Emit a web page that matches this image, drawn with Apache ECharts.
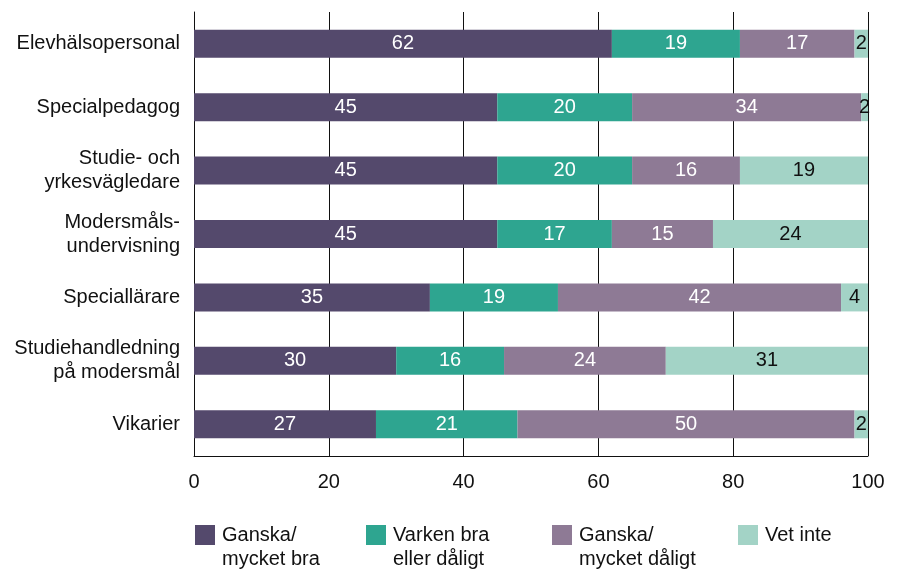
<!DOCTYPE html>
<html>
<head>
<meta charset="utf-8">
<script src="https://cdn.jsdelivr.net/npm/echarts@6/dist/echarts.min.js"></script>
<style>
  html, body { margin: 0; padding: 0; background: #fff; }
  #chart { width: 897px; height: 571px; }
</style>
</head>
<body>
<div id="chart"></div>
<script>
// kategorier (uppifrån och ner)
const categories = [
  'Elevhälsopersonal',
  'Specialpedagog',
  'Studie- och\nyrkesvägledare',
  'Modersmåls-\nundervisning',
  'Speciallärare',
  'Studiehandledning\npå modersmål',
  'Vikarier'
];
const seriesNames = ['Ganska/\nmycket bra', 'Varken bra\neller dåligt', 'Ganska/\nmycket dåligt', 'Vet inte'];
const bra = [62, 45, 45, 45, 35, 30, 27];
const varken = [19, 20, 20, 17, 19, 16, 21];
const daligt = [17, 34, 16, 15, 42, 24, 50];
const vetInte = [2, 2, 19, 24, 4, 31, 2];
const xTicks = [0, 20, 40, 60, 80, 100];

const colors = ['#54496c', '#2ea590', '#8e7a95', '#a3d3c6'];
const labelColors = ['#fff', '#fff', '#fff', '#111'];
const font = "'Liberation Sans', Arial, sans-serif";

const chart = echarts.init(document.getElementById('chart'));

const values = [bra, varken, daligt, vetInte];
const series = values.map((data, i) => ({
  name: seriesNames[i],
  type: 'bar',
  stack: 'total',
  data: data,
  barWidth: 28,
  itemStyle: { color: colors[i] },
  label: {
    show: true,
    position: 'inside',
    color: labelColors[i],
    fontSize: 20,
    fontFamily: font
  }
}));

// en legend per post så att de kan placeras exakt
const legendLeft = [195, 366, 552, 738];
const legends = seriesNames.map((name, i) => {
  const twoLines = name.indexOf('\n') >= 0;
  return {
    data: [name],
    left: legendLeft[i],
    top: twoLines ? 499 : 523,
    padding: 0,
    itemWidth: 20,
    itemHeight: 20,
    icon: 'rect',
    selectedMode: false,
    // tom första rad så att ikonen hamnar i höjd med första textraden
    formatter: n => (n.indexOf('\n') >= 0 ? ' \n' + n : n),
    textStyle: {
      fontSize: 20,
      fontFamily: font,
      color: '#111',
      lineHeight: 24,
      padding: [0, 0, 0, 2]
    }
  };
});

chart.setOption({
  animation: false,
  color: colors,
  grid: { left: 194, right: 29, top: 12, bottom: 115, containLabel: false },
  legend: legends,
  xAxis: {
    type: 'value',
    min: xTicks[0],
    max: xTicks[xTicks.length - 1],
    interval: 20,
    axisLine: { show: true, lineStyle: { color: '#111', width: 1 } },
    axisTick: { show: false },
    axisLabel: { fontSize: 20, fontFamily: font, color: '#111', margin: 16 },
    splitLine: { show: true, lineStyle: { color: '#111', width: 1 } }
  },
  yAxis: {
    type: 'category',
    data: categories,
    inverse: true,
    axisLine: { show: true, lineStyle: { color: '#111', width: 1 } },
    axisTick: { show: false },
    axisLabel: { fontSize: 20, fontFamily: font, color: '#111', margin: 14, lineHeight: 24, align: 'right' }
  },
  series: series
});
</script>
</body>
</html>
